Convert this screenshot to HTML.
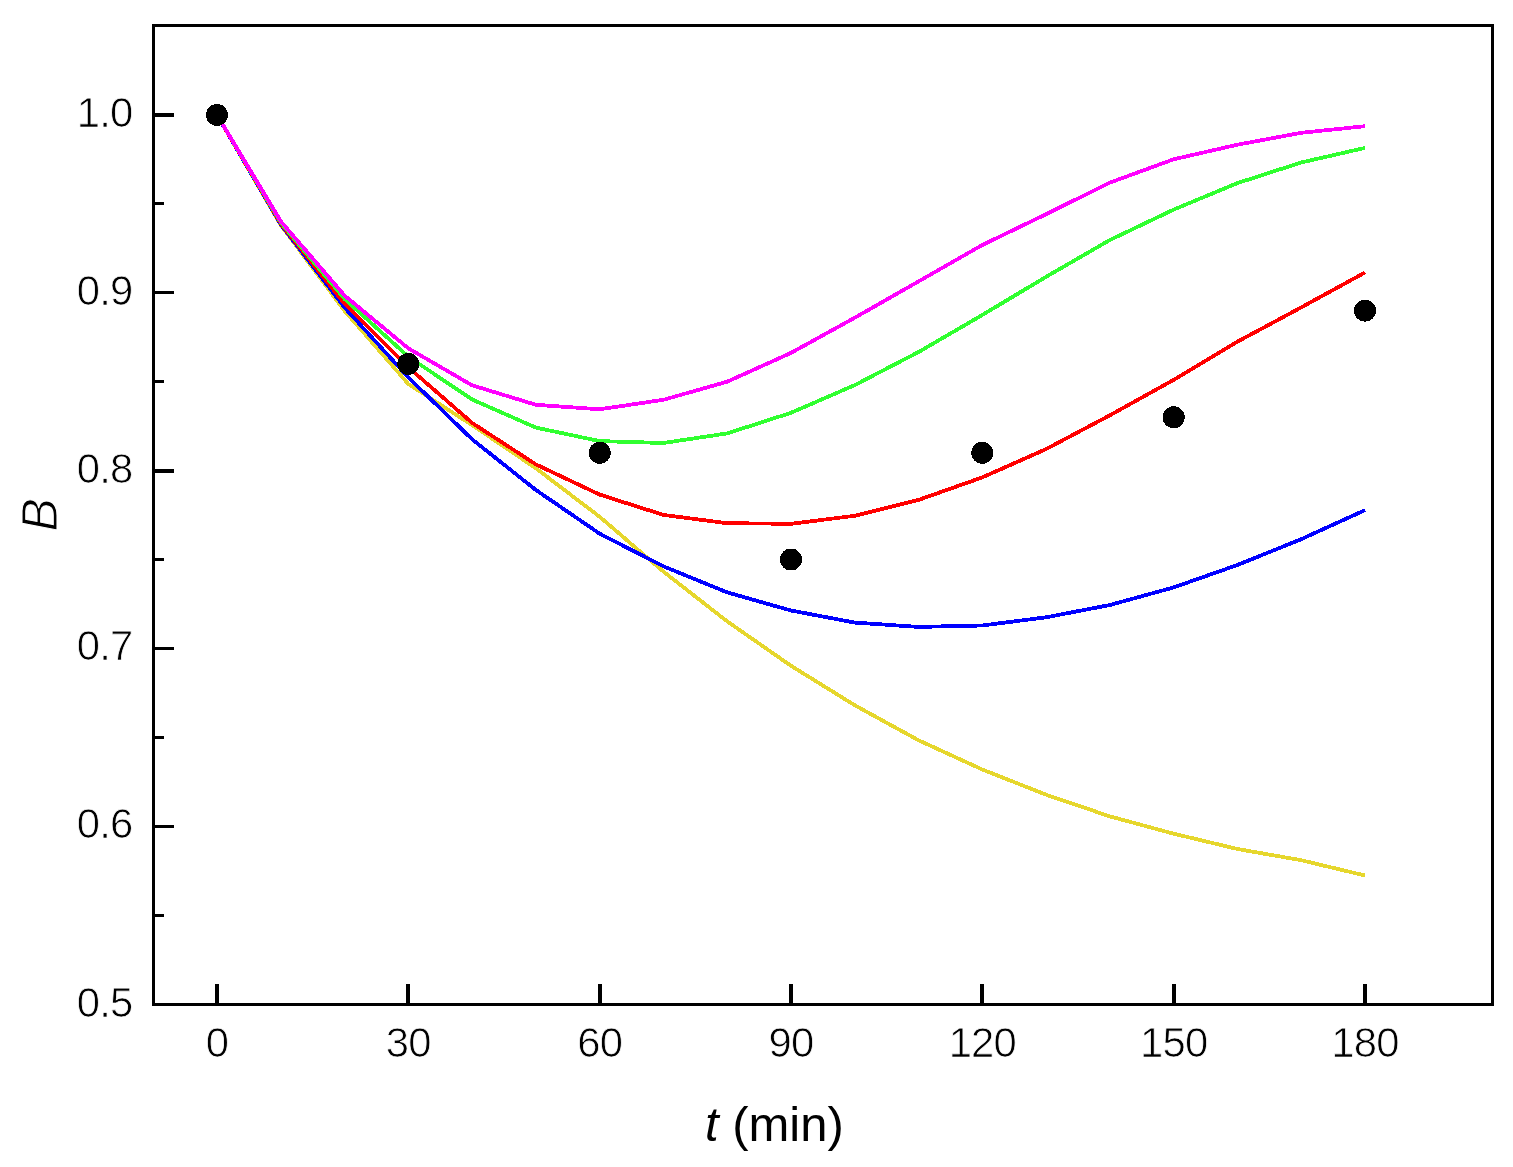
<!DOCTYPE html>
<html lang="en">
<head>
<meta charset="utf-8">
<title>B vs t (min)</title>
<style>
html,body{margin:0;padding:0;background:#fff;}
body{width:1513px;height:1167px;overflow:hidden;}
svg{display:block;}
text{font-family:"Liberation Sans",sans-serif;fill:#000;}
.tick{font-size:41.8px;letter-spacing:-0.8px;stroke:#fff;stroke-width:0.75px;paint-order:fill stroke;}
.lab{font-size:49px;}
</style>
</head>
<body>
<svg width="1513" height="1167" viewBox="0 0 1513 1167">
<rect x="0" y="0" width="1513" height="1167" fill="#fff"/>

<g fill="none" stroke-width="3.8" stroke-linejoin="round" stroke-linecap="butt" shape-rendering="crispEdges">
<polyline stroke="#E6D72D" points="217.0,115.0 280.8,225.2 344.6,310.9 408.3,384.0 472.1,425.1 535.9,468.3 599.7,516.8 663.4,571.6 727.2,621.4 791.0,665.8 854.8,705.3 918.6,740.3 982.3,769.5 1046.1,794.7 1109.9,816.4 1173.7,833.7 1237.4,849.0 1301.2,860.2 1365.0,875.5"/>
<polyline stroke="#0000FF" points="217.0,115.0 280.8,224.5 344.6,307.6 408.3,377.4 472.1,439.3 535.9,490.0 599.7,533.7 663.4,566.3 727.2,592.4 791.0,610.5 854.8,622.6 918.6,626.9 982.3,625.5 1046.1,617.3 1109.9,605.0 1173.7,587.4 1237.4,565.0 1301.2,539.2 1365.0,510.1"/>
<polyline stroke="#FF0000" points="217.0,115.0 280.8,223.6 344.6,303.8 408.3,367.3 472.1,422.9 535.9,464.4 599.7,494.6 663.4,514.9 727.2,523.2 791.0,523.8 854.8,515.8 918.6,499.9 982.3,477.4 1046.1,449.1 1109.9,415.3 1173.7,379.9 1237.4,341.7 1301.2,307.4 1365.0,272.5"/>
<polyline stroke="#30FF30" points="217.0,115.0 280.8,222.6 344.6,299.0 408.3,356.6 472.1,399.5 535.9,427.6 599.7,441.1 663.4,443.0 727.2,433.4 791.0,412.8 854.8,385.1 918.6,352.0 982.3,315.0 1046.1,276.8 1109.9,240.0 1173.7,209.6 1237.4,183.1 1301.2,162.5 1365.0,147.9"/>
<polyline stroke="#FF00FF" points="217.0,115.0 280.8,221.3 344.6,295.6 408.3,348.3 472.1,385.3 535.9,404.8 599.7,409.3 663.4,399.8 727.2,381.7 791.0,352.9 854.8,317.7 918.6,281.4 982.3,245.0 1046.1,214.2 1109.9,182.6 1173.7,159.3 1237.4,144.7 1301.2,132.8 1365.0,126.2"/>
</g>
<g fill="#000" shape-rendering="crispEdges">
<circle cx="217.0" cy="115.0" r="11"/>
<circle cx="408.3" cy="363.9" r="11"/>
<circle cx="599.7" cy="452.8" r="11"/>
<circle cx="791.0" cy="559.5" r="11"/>
<circle cx="982.3" cy="452.8" r="11"/>
<circle cx="1173.7" cy="417.3" r="11"/>
<circle cx="1365.0" cy="310.6" r="11"/>
</g>
<g fill="#000" shape-rendering="crispEdges">
<rect x="152" y="24" width="1342" height="3"/>
<rect x="152" y="1003" width="1342" height="3"/>
<rect x="152" y="24" width="3" height="982"/>
<rect x="1491" y="24" width="3" height="982"/>
<rect x="215" y="984" width="4" height="20"/>
<rect x="406" y="984" width="4" height="20"/>
<rect x="598" y="984" width="4" height="20"/>
<rect x="789" y="984" width="4" height="20"/>
<rect x="980" y="984" width="4" height="20"/>
<rect x="1172" y="984" width="4" height="20"/>
<rect x="1363" y="984" width="4" height="20"/>
<rect x="154" y="914" width="10" height="3"/>
<rect x="154" y="825" width="20" height="3"/>
<rect x="154" y="736" width="10" height="3"/>
<rect x="154" y="647" width="20" height="3"/>
<rect x="154" y="558" width="10" height="3"/>
<rect x="154" y="469" width="20" height="4"/>
<rect x="154" y="380" width="10" height="3"/>
<rect x="154" y="291" width="20" height="3"/>
<rect x="154" y="202" width="10" height="3"/>
<rect x="154" y="113" width="20" height="4"/>
</g>
<text class="tick" x="217.0" y="1056.5" text-anchor="middle">0</text>
<text class="tick" x="408.3" y="1056.5" text-anchor="middle">30</text>
<text class="tick" x="599.7" y="1056.5" text-anchor="middle">60</text>
<text class="tick" x="791.0" y="1056.5" text-anchor="middle">90</text>
<text class="tick" x="982.3" y="1056.5" text-anchor="middle">120</text>
<text class="tick" x="1173.7" y="1056.5" text-anchor="middle">150</text>
<text class="tick" x="1365.0" y="1056.5" text-anchor="middle">180</text>
<text class="tick" x="132.5" y="1017.0" text-anchor="end">0.5</text>
<text class="tick" x="132.5" y="838.2" text-anchor="end">0.6</text>
<text class="tick" x="132.5" y="660.4" text-anchor="end">0.7</text>
<text class="tick" x="132.5" y="482.6" text-anchor="end">0.8</text>
<text class="tick" x="132.5" y="304.8" text-anchor="end">0.9</text>
<text class="tick" x="132.5" y="127.0" text-anchor="end">1.0</text>
<text class="lab" x="705" y="1141"><tspan font-style="italic">t</tspan> (min)</text>
<text class="lab" font-style="italic" style="font-size:50px;stroke:#fff;stroke-width:1px;paint-order:fill stroke" transform="translate(56.5,531.5) rotate(-90)">B</text>
</svg>
</body>
</html>
